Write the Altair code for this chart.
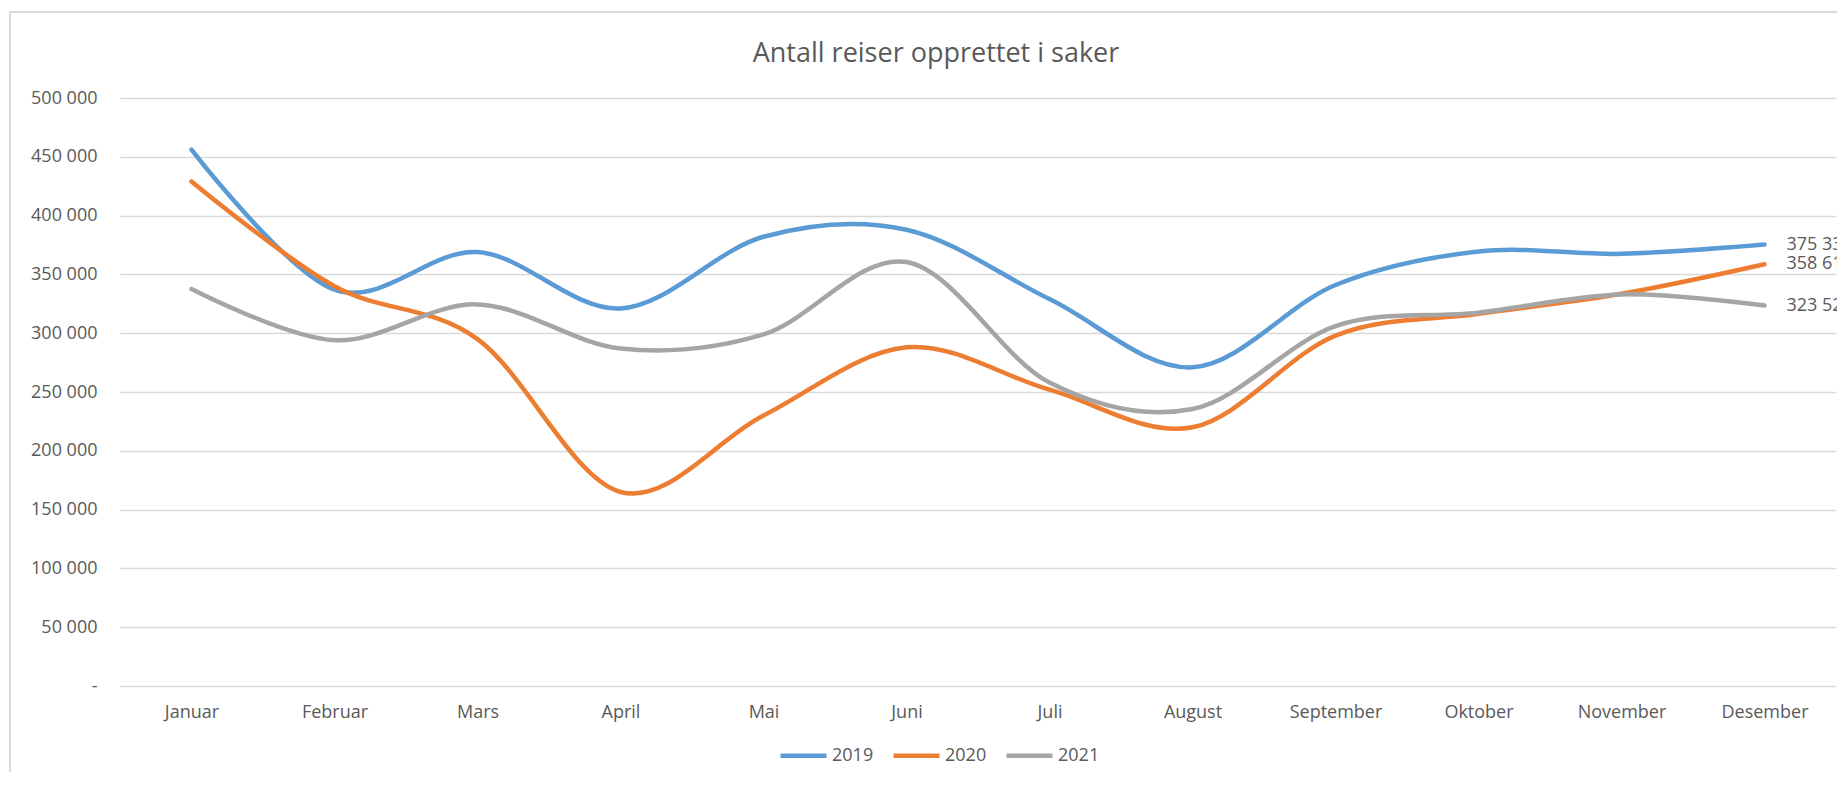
import altair as alt
import pandas as pd

months = ["Januar", "Februar", "Mars", "April", "Mai", "Juni", "Juli",
          "August", "September", "Oktober", "November", "Desember"]
years = ["2019", "2020", "2021"]
v2019 = [456000, 337000, 369000, 321000, 382000, 388000, 329000, 271000, 341000, 369500, 367500, 375330]
v2020 = [429000, 340000, 295000, 165000, 230000, 288000, 252000, 220000, 298000, 316500, 333500, 358610]
v2021 = [337500, 294000, 324500, 287000, 299000, 360500, 258000, 235500, 306000, 317500, 333000, 323520]
colors = ["#5B9BD5", "#ED7D31", "#A5A5A5"]
y_ticks = [0, 50000, 100000, 150000, 200000, 250000, 300000, 350000, 400000, 450000, 500000]
title_text = "Antall reiser opprettet i saker"

rows = []
for yr, vals in zip(years, [v2019, v2020, v2021]):
    for m, v in zip(months, vals):
        rows.append({"month": m, "year": yr, "value": v})
df = pd.DataFrame(rows)

W, H = 1716, 588
FONT = "Open Sans"
TXT = "#595959"

x_enc = alt.X("month:N", sort=months, title=None,
              scale=alt.Scale(type="point", padding=0.5),
              axis=alt.Axis(labelAngle=0, ticks=False, domain=False, grid=False,
                            labelFont=FONT, labelFontSize=18, labelColor=TXT,
                            labelPadding=17))
y_enc = alt.Y("value:Q", title=None,
              scale=alt.Scale(domain=[0, 500000], nice=False),
              axis=alt.Axis(values=y_ticks, ticks=False, domain=False,
                            grid=True, gridColor="#D9D9D9", gridWidth=1.5,
                            labelFont=FONT, labelFontSize=18, labelColor=TXT,
                            labelPadding=23,
                            labelExpr="datum.value == 0 ? '-' : replace(format(datum.value, ','), ',', ' ')"))

base = alt.Chart(df)

lines = base.mark_line(interpolate="cardinal", tension=0, strokeWidth=4.5,
                       strokeCap="round").encode(
    x=x_enc, y=y_enc,
    color=alt.Color("year:N", sort=years,
                    scale=alt.Scale(domain=years, range=colors),
                    legend=alt.Legend(title=None, orient="none", legendX=658, legendY=632,
                                      direction="horizontal", symbolType="stroke",
                                      symbolSize=2116, symbolStrokeWidth=4.5,
                                      labelFont=FONT, labelFontSize=18, labelColor=TXT,
                                      labelOffset=3, columnPadding=10)),
)

labels = base.transform_filter(alt.datum.month == "Desember").transform_calculate(
    label="replace(format(datum.value, ','), ',', ' ')"
).mark_text(align="left", baseline="middle", dx=22, font=FONT, fontSize=18,
            color=TXT).encode(
    x=alt.X("month:N", sort=months, scale=alt.Scale(type="point", padding=0.5)),
    y=alt.Y("value:Q"),
    text="label:N",
)

one = pd.DataFrame({"b": [0]})
border_left = alt.Chart(one).mark_rule(color="#D9D9D9", strokeWidth=2, clip=False).encode(
    x=alt.value(-110), y=alt.value(-87), y2=alt.value(H + 86))
border_top = alt.Chart(one).mark_rule(color="#D9D9D9", strokeWidth=2, clip=False).encode(
    x=alt.value(-111), x2=alt.value(W + 1), y=alt.value(-86))

title = alt.Chart(pd.DataFrame({"t": [title_text]})).mark_text(
    font=FONT, fontSize=27, color=TXT, align="center", baseline="alphabetic"
).encode(text="t:N", x=alt.value(816), y=alt.value(-36))

chart = alt.layer(border_left, border_top, lines, labels, title).properties(
    width=W, height=H,
    background="white",
    autosize=alt.AutoSizeParams(type="none"),
    padding={"left": 112, "top": 90, "right": 1, "bottom": 86},
).configure_view(stroke=None, strokeWidth=0)

chart.save("out.html", embed_options={"renderer": "svg", "actions": False})
